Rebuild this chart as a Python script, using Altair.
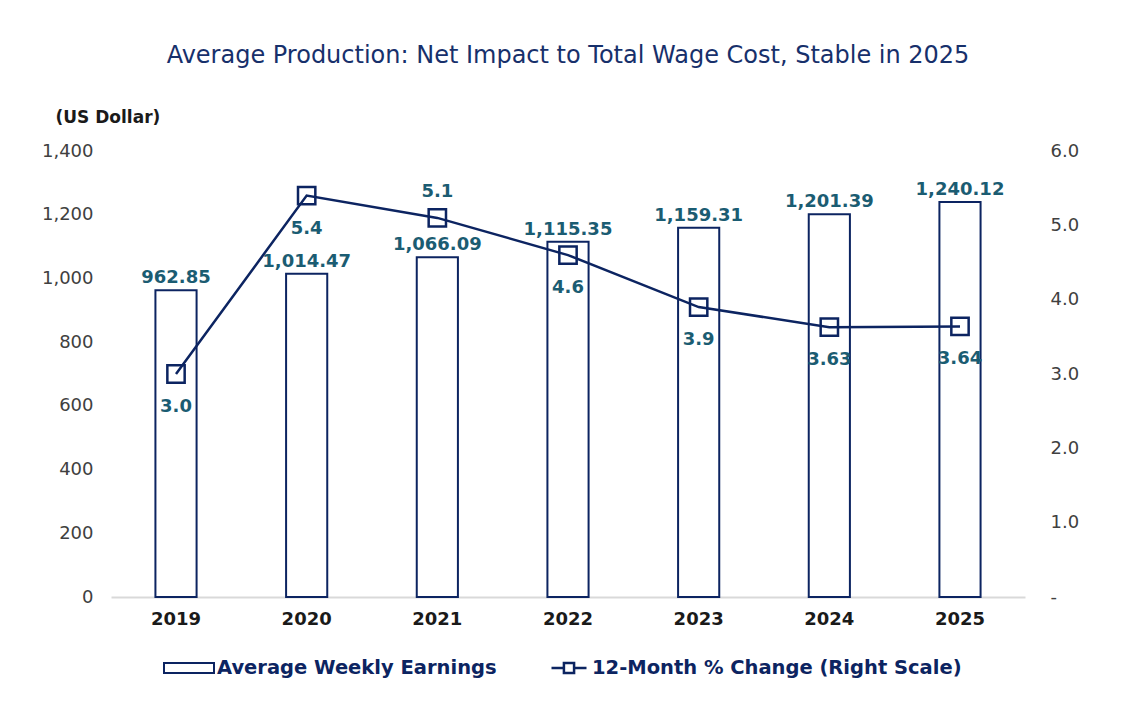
import altair as alt
import pandas as pd

years = ["2019", "2020", "2021", "2022", "2023", "2024", "2025"]
earnings = [962.85, 1014.47, 1066.09, 1115.35, 1159.31, 1201.39, 1240.12]
earn_labels = ["962.85", "1,014.47", "1,066.09", "1,115.35", "1,159.31", "1,201.39", "1,240.12"]
pct_change = [3.0, 5.4, 5.1, 4.6, 3.9, 3.63, 3.64]
pct_labels = ["3.0", "5.4", "5.1", "4.6", "3.9", "3.63", "3.64"]
above_years = ["2021"]
left_ticks = [0, 200, 400, 600, 800, 1000, 1200, 1400]
right_ticks = [0, 1, 2, 3, 4, 5, 6]

df = pd.DataFrame({
    "year": years,
    "earnings": earnings,
    "earn_label": earn_labels,
    "pct": pct_change,
    "pct_label": pct_labels,
})

NAVY = "#0C2461"
TEAL = "#1B5C72"
FONT = "DejaVu Sans"
BAR_NAME = "Average Weekly Earnings"
LINE_NAME = "12-Month % Change (Right Scale)"

base = alt.Chart(df)

xenc = alt.X("year:N", sort=years, title=None,
             scale=alt.Scale(paddingInner=0.685, paddingOuter=0.34),
             axis=alt.Axis(labelFont=FONT, labelFontSize=18, labelFontWeight="bold",
                           labelColor="#1a1a1a", labelAngle=0, labelPadding=13,
                           ticks=False, domainColor="#d9d9d9", domainWidth=2))

yleft = alt.Y("earnings:Q", title="(US Dollar)",
              scale=alt.Scale(domain=[0, 1400]),
              axis=alt.Axis(values=left_ticks,
                            labelExpr="format(datum.value, ',')",
                            labelFont=FONT, labelFontSize=18, labelColor="#404040",
                            labelPadding=18, ticks=False, domain=False, grid=False,
                            titleAngle=0, titleX=-56, titleY=-34, titleAlign="left",
                            titleBaseline="middle", titleFont=FONT, titleFontSize=17,
                            titleFontWeight="bold", titleColor="#1a1a1a"))

bars = base.mark_bar(stroke=NAVY, strokeWidth=2).encode(
    x=xenc,
    y=yleft,
    fill=alt.Fill("series:N", scale=alt.Scale(domain=[BAR_NAME], range=["white"]),
                  legend=alt.Legend(title=None, orient="none", legendX=52, legendY=491,
                                    symbolType="M-1,-0.2L1,-0.2L1,0.2L-1,0.2Z",
                                    symbolSize=2500, symbolStrokeColor=NAVY,
                                    symbolFillColor="white", symbolStrokeWidth=2,
                                    labelFont=FONT, labelFontSize=19.5, labelFontWeight="bold",
                                    labelColor=NAVY, labelOffset=2, labelLimit=500,
                                    padding=0)),
).transform_calculate(series=f"'{BAR_NAME}'")

bar_text = base.mark_text(font=FONT, fontSize=18, fontWeight="bold", color=TEAL,
                          baseline="alphabetic", dy=-7).encode(
    x=alt.X("year:N", sort=years),
    y=alt.Y("earnings:Q"),
    text="earn_label:N",
)

left = alt.layer(bars, bar_text)

yright = alt.Y("pct:Q", title=None, scale=alt.Scale(domain=[0, 6]),
               axis=alt.Axis(orient="right", values=right_ticks,
                             labelExpr="datum.value == 0 ? '-' : format(datum.value, '.1f')",
                             labelFont=FONT, labelFontSize=18, labelColor="#404040",
                             labelPadding=25, ticks=False, domain=False, grid=False))

line = base.mark_line(strokeWidth=2.5).encode(
    x=alt.X("year:N", sort=years),
    y=yright,
    stroke=alt.Stroke("series:N", scale=alt.Scale(domain=[LINE_NAME], range=[NAVY]),
                      legend=alt.Legend(title=None, orient="none", legendX=439, legendY=498,
                                        symbolType="M-1,0L-0.29,0M0.29,0L1,0M-0.29,-0.29L0.29,-0.29L0.29,0.29L-0.29,0.29Z",
                                        symbolSize=1225, symbolStrokeColor=NAVY,
                                        symbolFillColor="transparent", symbolStrokeWidth=2.5,
                                        labelFont=FONT, labelFontSize=19.5, labelFontWeight="bold",
                                        labelColor=NAVY, labelOffset=4, labelLimit=500,
                                        padding=0)),
).transform_calculate(series=f"'{LINE_NAME}'")

points = base.mark_point(shape="square", size=300, filled=False, color=NAVY,
                         strokeWidth=2.5, opacity=1).encode(
    x=alt.X("year:N", sort=years),
    y=alt.Y("pct:Q"),
)

pct_text_below = base.mark_text(font=FONT, fontSize=18, fontWeight="bold", color=TEAL,
                                baseline="middle", dy=33).encode(
    x=alt.X("year:N", sort=years),
    y=alt.Y("pct:Q"),
    text="pct_label:N",
).transform_filter(f"indexof({above_years!r}, datum.year) < 0")

pct_text_above = base.mark_text(font=FONT, fontSize=18, fontWeight="bold", color=TEAL,
                                baseline="middle", dy=-26).encode(
    x=alt.X("year:N", sort=years),
    y=alt.Y("pct:Q"),
    text="pct_label:N",
).transform_filter(f"indexof({above_years!r}, datum.year) >= 0")

right = alt.layer(line, points, pct_text_below, pct_text_above)

chart = alt.layer(left, right).resolve_scale(
    y="independent", fill="independent", stroke="independent"
).properties(
    width=914, height=446,
    padding={"left": 103, "top": 143, "right": 88, "bottom": 100},
    autosize=alt.AutoSizeParams(type="none"),
    background="white",
    title=alt.TitleParams("Average Production: Net Impact to Total Wage Cost, Stable in 2025",
                          font=FONT, fontSize=24, fontWeight="normal", color="#17306B",
                          anchor="middle", offset=40),
).configure_view(stroke="transparent", strokeWidth=0)

chart.save("out.html", embed_options={"renderer": "svg", "actions": False})
